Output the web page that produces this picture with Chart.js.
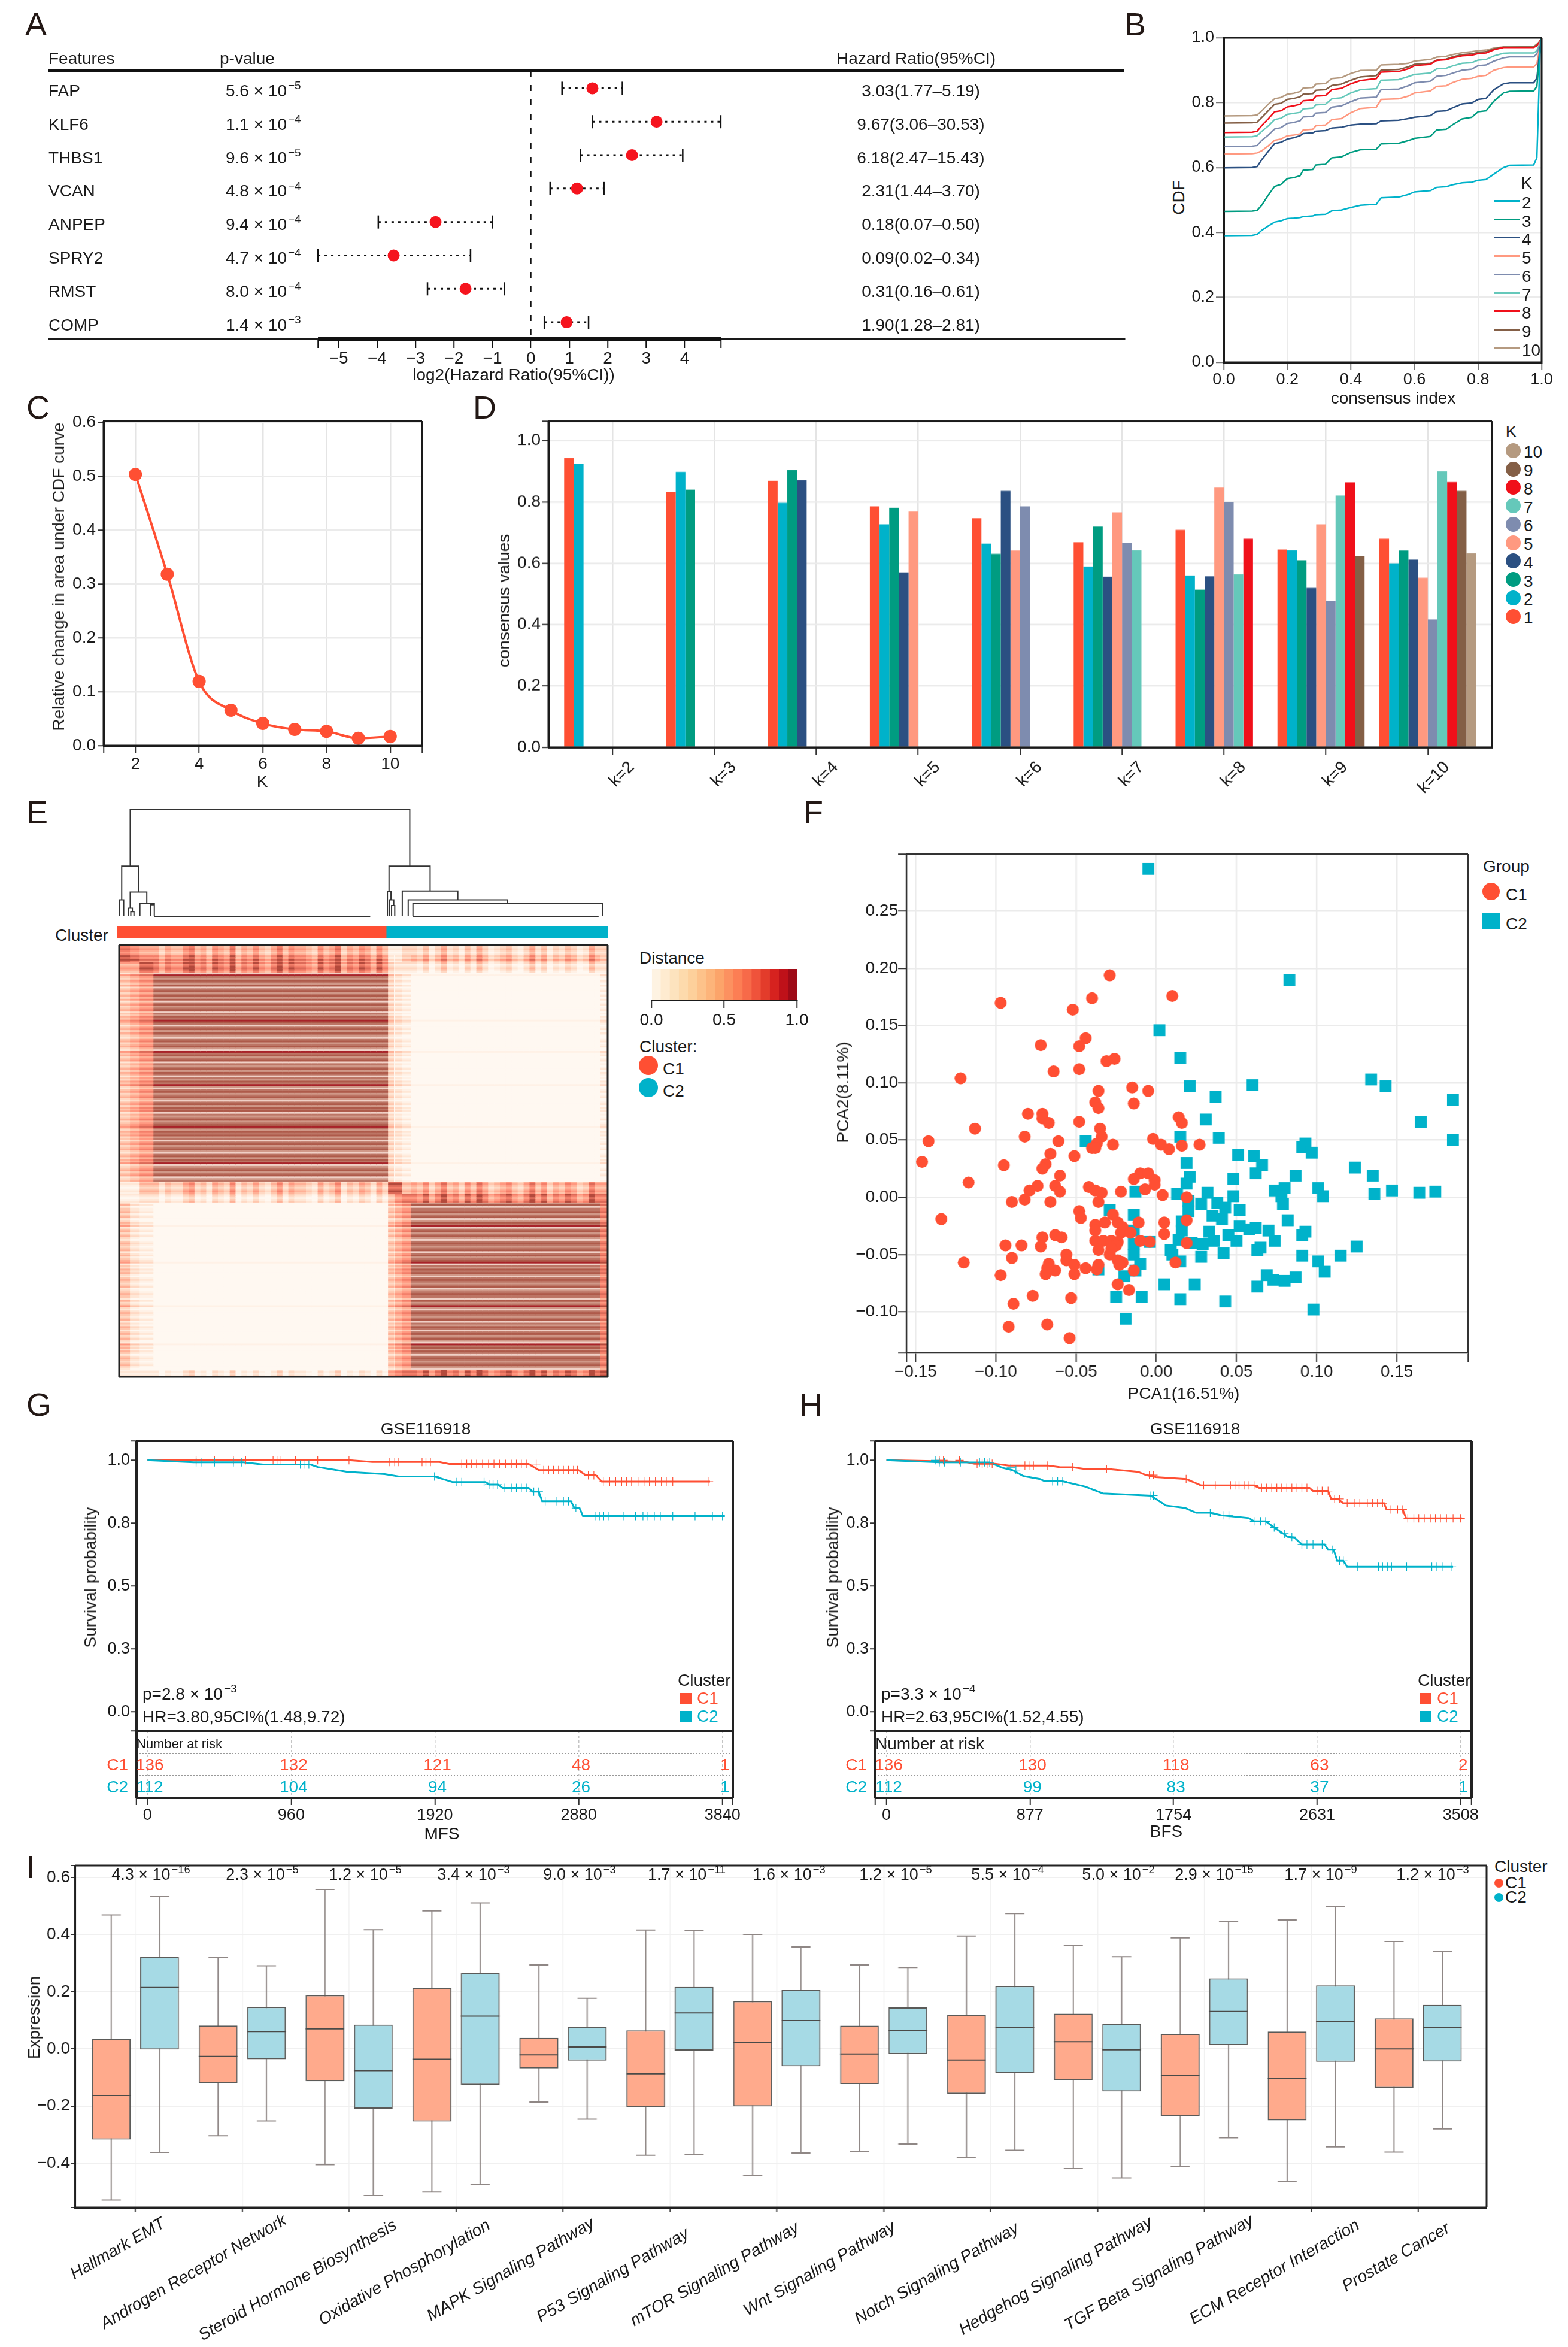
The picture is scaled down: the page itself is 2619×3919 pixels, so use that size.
<!DOCTYPE html>
<html>
<head>
<meta charset="utf-8">
<title>Consensus clustering figure</title>
<script src="https://cdn.jsdelivr.net/npm/chart.js@4"></script>
<style>
  html, body { margin: 0; padding: 0; background: #fff; }
  #stage { position: relative; width: 2619px; height: 3919px; overflow: hidden; background: #fff; font-family: "Liberation Sans", Arial, sans-serif; color: #1a1a1a; }
  #stage canvas { position: absolute; }
  .t { position: absolute; white-space: nowrap; line-height: 1; }
  .t sup { font-size: .68em; line-height: 0; vertical-align: .62em; margin-left: 2px; }
  .s { position: absolute; }
</style>
</head>
<body>
<div id="stage"></div>
<script>
// ---------- colours ----------
const colC1 = "#FF4F33";
const colC2 = "#00B2CA";
const colK = ["#FF4F33", "#00B2CA", "#009C81", "#2B5082", "#FF9980", "#7E8CAF", "#65C8BA", "#F0101A", "#845F46", "#B59A80"];

// ---------- A: forest plot ----------
const coxGenes = ["FAP", "KLF6", "THBS1", "VCAN", "ANPEP", "SPRY2", "RMST", "COMP"];
const coxP = ["5.6", "1.1", "9.6", "4.8", "9.4", "4.7", "8.0", "1.4"];
const coxExp = [-5, -4, -5, -4, -4, -4, -4, -3];
const coxHR = ["3.03", "9.67", "6.18", "2.31", "0.18", "0.09", "0.31", "1.90"];
const coxLow = ["1.77", "3.06", "2.47", "1.44", "0.07", "0.02", "0.16", "1.28"];
const coxHigh = ["5.19", "30.53", "15.43", "3.70", "0.50", "0.34", "0.61", "2.81"];
// log2 positions
const coxLogHR = [1.60, 3.27, 2.63, 1.20, -2.48, -3.57, -1.70, .93];
const coxLogLow = [.81, 1.60, 1.29, .50, -3.97, -5.54, -2.69, .35];
const coxLogHigh = [2.38, 4.94, 3.95, 1.90, -1.00, -1.57, -.69, 1.50];
const forestTicks = [-5.54, -5, -4, -3, -2, -1, 0, 1, 2, 3, 4, 4.95];

// ---------- B: CDF curves ----------
const cdfX = [0, .09, .105, .12, .14, .16, .18, .2, .22, .24, .25, .28, .29, .32, .34, .37, .4, .43, .48, .495, .55, .58, .6, .65, .67, .7, .72, .75, .78, .8, .825, .85, .88, .9, .975, .985, .995, 1];
const cdfK2 = [.39, .391, .394, .407, .42, .432, .436, .443, .444, .446, .449, .451, .455, .456, .467, .469, .477, .484, .487, .507, .509, .517, .525, .529, .539, .541, .547, .553, .555, .561, .563, .58, .6, .607, .608, .63, .95, 1];
const cdfK3 = [.465, .466, .468, .485, .515, .542, .548, .566, .569, .575, .592, .594, .608, .61, .63, .633, .647, .655, .657, .673, .675, .683, .69, .696, .716, .718, .732, .75, .755, .772, .775, .805, .83, .835, .836, .85, .96, 1];
const cdfK4 = [.599, .6, .603, .625, .65, .674, .678, .688, .692, .698, .705, .707, .712, .714, .722, .724, .731, .734, .735, .744, .746, .751, .755, .76, .773, .775, .784, .796, .799, .81, .813, .84, .858, .861, .861, .875, .97, 1];
const cdfK5 = [.642, .643, .645, .652, .667, .684, .688, .698, .7, .704, .716, .718, .729, .731, .748, .751, .769, .782, .786, .81, .812, .82, .83, .836, .85, .852, .862, .872, .875, .881, .884, .9, .908, .91, .91, .92, .975, 1];
const cdfK6 = [.665, .666, .668, .684, .7, .719, .723, .736, .739, .744, .756, .758, .768, .77, .786, .79, .803, .814, .817, .84, .842, .852, .861, .866, .881, .884, .891, .9, .903, .914, .916, .928, .938, .941, .941, .95, .98, 1];
const cdfK7 = [.694, .695, .698, .712, .728, .748, .752, .764, .767, .77, .781, .783, .793, .795, .812, .815, .83, .84, .843, .869, .871, .88, .887, .891, .904, .906, .913, .921, .923, .931, .933, .944, .952, .953, .953, .96, .985, 1];
const cdfK8 = [.708, .709, .712, .73, .75, .772, .775, .787, .79, .795, .806, .808, .82, .822, .84, .844, .858, .868, .874, .894, .896, .904, .914, .918, .93, .932, .938, .944, .946, .951, .953, .963, .97, .97, .97, .975, .99, 1];
const cdfK9 = [.737, .738, .74, .755, .775, .795, .798, .81, .813, .818, .826, .828, .838, .84, .853, .857, .869, .879, .883, .9, .902, .91, .918, .921, .931, .934, .941, .948, .95, .955, .957, .966, .971, .971, .972, .978, .99, 1];
const cdfK10 = [.759, .76, .762, .775, .795, .812, .816, .826, .829, .834, .845, .847, .857, .859, .874, .877, .89, .899, .9, .916, .918, .921, .928, .933, .94, .943, .948, .954, .957, .96, .962, .968, .972, .972, .973, .98, .99, 1];

// ---------- C: relative change ----------
const deltaK = [2, 3, 4, 5, 6, 7, 8, 9, 10];
const deltaArea = [.503, .318, .119, .0655, .041, .03, .0265, .0135, .0168];

// ---------- D: consensus values, one array per cluster, one entry per k ----------
const consensusK = [2, 3, 4, 5, 6, 7, 8, 9, 10];
const cons1 = [.944, .833, .869, .786, .747, .669, .709, .645, .68];
const cons2 = [.925, .898, .797, .727, .664, .589, .56, .643, .6];
const cons3 = [null, .84, .905, .781, .631, .72, .514, .61, .642];
const cons4 = [null, null, .872, .57, .836, .556, .558, .52, .612];
const cons5 = [null, null, null, .769, .642, .766, .847, .727, .553];
const cons6 = [null, null, null, null, .786, .667, .8, .477, .417];
const cons7 = [null, null, null, null, null, .643, .565, .821, .9];
const cons8 = [null, null, null, null, null, null, .68, .864, .865];
const cons9 = [null, null, null, null, null, null, null, .624, .836];
const cons10 = [null, null, null, null, null, null, null, null, .633];

// ---------- E: consensus heatmap, read as bands of columns and rows ----------
const heatColBands = [5.4, 4.9, 7, 119.1, 3, 0.6, 3.4, 4.8, 96, 3.8];
const heatRowBands = [6, 4, 6, 120, 7, 5, 96, 4];
const heatLevels = [
  [7, 6, 5, 5, 1, 1, 1, 3, 3, 3],
  [8, 7, 6, 6, 1, 0, 1, 3, 4, 3],
  [5, 5, 8, 7, 3, 1, 2, 2, 2, 2],
  [4, 5, 6, 10, 3, 0, 2, 1, 0, 1],
  [1, 1, 4, 4, 8, 8, 8, 4, 5, 5],
  [1, 1, 2, 2, 4, 4, 6, 7, 7, 7],
  [4, 2, 1, 0, 4, 3, 5, 6, 10, 7],
  [1, 1, 1, 1, 5, 5, 6, 7, 7, 8]
];
const heatRowTone = "mmdmpmdmrmdpmdmp" +
  "wrmpdmpdwmdpmdpdwmdpmdwmpdmrdmwmdpdmpwmdpmdpwrmdpmdwmpmdpdmwmpdmrpwmdpmdpwmdpdmdwmpmdpmdrmpdmdpmwmdpmdpwmdpdmrwpmdpmdwpm" +
  "mdmpmdmdmpmd" +
  "pdwmmdpmdwpdmrwmdpmdpwmdmpmdwmdpmdrwmpdmdpwmdmpmdwpmdmmwdpmrpwmdmpmdwmpdmwmdpmdpwrmdpdmwmdmpmdpw" +
  "mdmd";
const heatSpeckC1 = "2021134120321402131024132210312402132031";
const heatSpeckC2 = "21302412031420123102413021320142";
const heatRamp = ["#FFF8F1", "#FFF1E6", "#FFE7D6", "#FFD9C4", "#FFC7AE", "#FFB096", "#FF9880", "#F47F6A", "#DD6A58", "#B44A3C"];
const heatMainTone = { w: "#F0D0C6", p: "#D09888", m: "#BC7565", d: "#AE5A4A", r: "#A82329" };
const heatToneShift = { w: -2, p: -1, m: 0, d: 1, r: 2 };
const clusterSizes = [136, 112];
const distanceRamp = ["#FEF3E2", "#FEEBD0", "#FDE3BE", "#FDDAAC", "#FDD09B", "#FDC28A", "#FDB47A", "#FCA46A", "#FC9160", "#FC7E54", "#F76A49", "#EF533B", "#E33C2B", "#D6221F", "#BF1119", "#9E0A17"];
// dendrogram merges: left leg, right leg, join height, foot of left leg, foot of right leg
const dendLeft = [6.5, 2.2, 1.1, 6.5, 5.7, 6.8, 11.4, 16.8, 137.4, 136.6, 137.6, 138.7, 144.1, 147.1, 149.5, 18.7, 149.5];
const dendRight = [147.9, 10.8, 3.2, 14.9, 7.6, 8.4, 18.7, 18.7, 158.2, 138.4, 139.8, 140.3, 172.2, 197.4, 245.3, 127.9, 243.4];
const dendTop = [1, .471, .155, .227, .076, .043, .119, .108, .471, .234, .155, .101, .237, .155, .119, 0, 0];
const dendFootL = [.471, .155, 0, .076, 0, 0, 0, 0, .234, 0, 0, 0, 0, 0, 0, 0, 0];
const dendFootR = [.471, .227, 0, .119, .043, 0, 0, 0, .237, .155, .101, 0, .155, .119, 0, 0, 0];

// ---------- F: PCA ----------
const pcaC1X = [-.029, .010, -.097, -.040, -.052, -.044, -.048, -.072, -.031, -.026, -.064, -.048, -.122, -.036, -.015, -.005, -.038, -.036, -.014, -.080, -.071, -.071, -.067, -.048, .014, .016, -.113, -.035, -.034, -.142, -.082, -.061, -.037, -.027, -.002, .003, .016, .027, .008, -.040, -.038, -.066, -.051, -.146, -.095, -.069, -.071, -.060, -.117, -.010, -.005, -.014, -.001, -.001, -.074, -.079, -.063, -.060, -.042, -.038, -.034, -.022, -.007, .004, -.082, -.090, -.066, -.036, .019, -.048, -.047, -.027, -.134, -.038, -.032, -.024, -.011, .005, -.038, -.021, .005, -.071, -.063, -.059, -.022, -.016, -.094, -.084, -.072, -.038, -.033, -.028, -.024, -.010, -.004, .019, -.036, -.029, -.025, -.090, -.056, -.056, -.067, -.120, -.051, -.024, -.021, -.023, .012, -.036, -.044, -.037, -.063, -.069, -.068, -.014, -.051, -.097, -.024, -.017, -.077, -.053, -.089, -.092, -.068, -.054, .019, -.028];
const pcaC1Y = [.194, .176, .170, .174, .164, .139, .132, .133, .119, .121, .110, .112, .104, .093, .096, .093, .083, .078, .082, .073, .073, .069, .065, .066, .070, .065, .060, .060, .053, .049, .053, .049, .047, .046, .051, .046, .045, .046, .042, .043, .043, .038, .036, .031, .028, .029, .025, .019, .013, .021, .021, .016, .015, .011, .010, .006, .010, .005, .009, .006, .004, .005, .007, .002, -.002, -.004, -.004, -.004, 0, -.012, -.018, -.015, -.019, -.024, -.022, -.022, -.022, -.022, -.029, -.026, -.032, -.035, -.033, -.035, -.031, -.031, -.042, -.042, -.043, -.038, -.038, -.038, -.039, -.038, -.039, -.040, -.046, -.050, -.042, -.053, -.050, -.055, -.058, -.057, -.059, -.055, -.057, -.059, -.057, -.059, -.062, -.063, -.064, -.067, -.062, -.064, -.067, -.068, -.076, -.081, -.086, -.088, -.093, -.113, -.111, -.123, -.020, -.045];
const pcaC2X = [-.005, .083, .002, .015, .134, .143, .021, .060, .037, .185, .031, .165, -.044, .015, .039, .185, .093, .091, .097, .051, .061, .019, .066, .124, .062, .135, .087, .021, .048, .019, .101, .074, .080, .032, -.013, .013, .104, .136, .147, .164, .174, .078, .048, .079, .020, .028, .038, .020, .043, .052, -.029, .035, -.014, .041, .082, .016, .052, .058, .062, .016, -.014, .070, .093, .091, .033, .045, .014, .036, .074, .050, .022, .029, -.004, -.014, .065, .063, .009, .010, .125, -.014, .042, .028, .091, .115, .015, -.010, .101, .105, -.013, -.020, -.036, .069, .073, .080, .087, .005, .024, .063, -.025, -.009, .015, .043, .098, -.019];
const pcaC2Y = [.287, .190, .146, .122, .103, .097, .097, .098, .088, .085, .068, .066, .049, .053, .052, .050, .047, .044, .039, .037, .036, .030, .028, .026, .021, .019, .019, .018, .016, .012, .008, .006, .008, .004, .005, .003, .001, .003, .006, .004, .005, .001, .001, -.006, -.003, -.006, -.005, -.012, -.009, -.011, -.011, -.016, -.015, -.019, -.020, -.021, -.025, -.028, -.027, -.029, -.029, -.029, -.030, -.033, -.030, -.033, -.037, -.038, -.038, -.038, -.040, -.041, -.039, -.041, -.044, -.046, -.046, -.050, -.043, -.050, -.049, -.052, -.051, -.051, -.056, -.058, -.056, -.065, -.064, -.069, -.063, -.068, -.072, -.073, -.070, -.076, -.076, -.078, -.087, -.087, -.089, -.091, -.098, -.106];

// ---------- G: MFS survival ----------
const mfsTicks = [0, 960, 1920, 2880, 3840];
const mfsC1T = [0, 1346, 1502, 1950, 2016, 2546, 2613, 2878, 2928, 2994, 3034, 3757];
const mfsC1S = [1, 1, .993, .993, .985, .985, .961, .961, .94, .94, .915, .915];
const mfsC2T = [0, 308, 640, 772, 1088, 1137, 1336, 1585, 1684, 1917, 2039, 2258, 2281, 2341, 2371, 2546, 2573, 2613, 2636, 2828, 2851, 2885, 2908, 3856];
const mfsC2S = [1, .992, .992, .983, .983, .973, .954, .945, .935, .935, .913, .913, .903, .903, .89, .89, .875, .875, .837, .837, .81, .81, .778, .778];
const mfsC1Cens = [325, 448, 574, 656, 839, 865, 892, 988, 1137, 1346, 1618, 1651, 1678, 1834, 1860, 1890, 2099, 2132, 2165, 2198, 2238, 2278, 2314, 2351, 2391, 2430, 2464, 2497, 2530, 2596, 2646, 2679, 2712, 2745, 2778, 2812, 2845, 2871, 2944, 2981, 3044, 3087, 3127, 3167, 3200, 3233, 3276, 3316, 3352, 3392, 3432, 3465, 3508, 3750];
const mfsC2Cens = [325, 358, 448, 574, 630, 1021, 1045, 1078, 1917, 2066, 2099, 2248, 2281, 2308, 2338, 2381, 2430, 2464, 2497, 2530, 2580, 2613, 2656, 2729, 2778, 2812, 2861, 2994, 3021, 3047, 3077, 3177, 3259, 3309, 3342, 3385, 3425, 3508, 3657, 3773, 3840];
const mfsRiskC1 = [136, 132, 121, 48, 1];
const mfsRiskC2 = [112, 104, 94, 26, 1];

// ---------- H: BFS survival ----------
const bfsTicks = [0, 877, 1754, 2631, 3508];
const bfsC1T = [0, 477, 538, 662, 748, 985, 1062, 1138, 1215, 1354, 1538, 1585, 1646, 1831, 1923, 2246, 2277, 2585, 2606, 2698, 2717, 2760, 2791, 3040, 3055, 3154, 3175, 3517];
const bfsC1S = [1, .994, .986, .986, .979, .979, .972, .972, .965, .965, .954, .941, .933, .925, .9, .9, .89, .89, .878, .878, .846, .846, .829, .829, .804, .804, .769, .769];
const bfsC2T = [0, 323, 631, 708, 769, 837, 938, 969, 1077, 1215, 1323, 1615, 1708, 1825, 1892, 1978, 2046, 2215, 2246, 2317, 2369, 2425, 2452, 2492, 2538, 2677, 2698, 2732, 2754, 2791, 2815, 3462];
const bfsC2S = [1, .992, .991, .97, .961, .937, .925, .916, .916, .895, .868, .859, .82, .81, .791, .791, .781, .77, .757, .757, .733, .708, .695, .693, .665, .665, .644, .644, .6, .6, .576, .576];
const bfsC1Cens = [323, 348, 446, 554, 585, 615, 646, 846, 871, 898, 985, 1138, 1345, 1606, 1631, 1831, 1938, 2009, 2102, 2129, 2154, 2185, 2215, 2246, 2292, 2323, 2354, 2385, 2415, 2446, 2477, 2508, 2538, 2569, 2631, 2662, 2698, 2738, 2769, 2815, 2862, 2892, 2938, 2969, 3000, 3031, 3077, 3123, 3154, 3185, 3222, 3252, 3286, 3323, 3354, 3385, 3422, 3462, 3508];
const bfsC2Cens = [298, 323, 354, 452, 569, 600, 631, 760, 791, 1015, 1046, 1077, 1615, 1631, 1978, 2062, 2092, 2246, 2286, 2317, 2369, 2431, 2477, 2538, 2569, 2606, 2662, 2723, 2769, 2791, 2877, 3006, 3031, 3062, 3086, 3178, 3332, 3363, 3400, 3455];
const bfsRiskC1 = [136, 130, 118, 63, 2];
const bfsRiskC2 = [112, 99, 83, 37, 1];

// ---------- I: pathway box plots ----------
const pathways = ["Hallmark EMT", "Androgen Receptor Network", "Steroid Hormone Biosynthesis", "Oxidative Phosphorylation", "MAPK Signaling Pathway", "P53 Signaling Pathway", "mTOR Signaling Pathway", "Wnt Signaling Pathway", "Notch Signaling Pathway", "Hedgehog Signaling Pathway", "TGF Beta Signaling Pathway", "ECM Receptor Interaction", "Prostate Cancer"];
const pathP = ["4.3", "2.3", "1.2", "3.4", "9.0", "1.7", "1.6", "1.2", "5.5", "5.0", "2.9", "1.7", "1.2"];
const pathExp = [-16, -5, -5, -3, -3, -11, -3, -5, -4, -2, -15, -9, -3];
const pathLabelX = [252, 438, 610, 791, 968, 1147, 1318, 1496, 1683, 1868, 2028, 2206, 2393];
const pathNameEndX = [278, 481, 665, 821, 995, 1153, 1337, 1498, 1704, 1927, 2096, 2273, 2424];
const pathNameEndY = [3700, 3695, 3703, 3703, 3700, 3717, 3707, 3706, 3708, 3698, 3695, 3703, 3708];
const c1Hi = [.469, .321, .558, .483, .294, .416, .401, .294, .395, .363, .389, .451, .376];
const c1Q3 = [.035, .082, .188, .212, .039, .065, .167, .081, .118, .123, .053, .061, .107];
const c1Med = [-.163, -.026, .07, -.036, -.021, -.087, .022, -.018, -.039, .025, -.093, -.102, 0];
const c1Q1 = [-.317, -.12, -.113, -.254, -.068, -.204, -.201, -.123, -.157, -.109, -.235, -.25, -.137];
const c1Lo = [-.529, -.304, -.405, -.501, -.186, -.372, -.443, -.359, -.381, -.419, -.411, -.464, -.361];
const c2Hi = [.533, .291, .417, .511, .177, .414, .357, .285, .474, .323, .446, .499, .34];
const c2Q3 = [.323, .147, .085, .266, .076, .217, .206, .145, .22, .087, .247, .222, .154];
const c2Med = [.215, .061, -.076, .115, .007, .126, .099, .065, .074, -.003, .131, .095, .076];
const c2Q1 = [-.002, -.036, -.209, -.126, -.041, -.006, -.061, -.018, -.085, -.149, .013, -.045, -.044];
const c2Lo = [-.362, -.252, -.513, -.473, -.246, -.369, -.364, -.333, -.355, -.451, -.311, -.343, -.28];

// ---------- helpers ----------
Chart.defaults.font.family = '"Liberation Sans", Arial, sans-serif';
Chart.defaults.font.size = 28;
Chart.defaults.color = "#1a1a1a";

const stage = document.getElementById("stage");

// box round the plot area, sides picked with a string such as "trbl"
Chart.register({
  id: "frame",
  afterDatasetsDraw(chart, args, opts) {
    if (!opts.width) return;
    const { left, right, top, bottom } = chart.chartArea;
    const ctx = chart.ctx;
    const sides = opts.sides || "trbl";
    ctx.save();
    ctx.strokeStyle = opts.color || "#1a1a1a";
    ctx.lineWidth = opts.width;
    ctx.beginPath();
    if (sides.includes("t")) { ctx.moveTo(left, top); ctx.lineTo(right, top); }
    if (sides.includes("r")) { ctx.moveTo(right, top); ctx.lineTo(right, bottom); }
    if (sides.includes("b")) { ctx.moveTo(left, bottom); ctx.lineTo(right, bottom); }
    if (sides.includes("l")) { ctx.moveTo(left, top); ctx.lineTo(left, bottom); }
    ctx.stroke();
    ctx.restore();
  }
});

// text placed on the page, y is the middle of the line
function txt(html, x, y, o = {}) {
  const el = document.createElement("div");
  el.className = "t";
  el.innerHTML = html;
  const shift = o.align === "right" ? -100 : o.align === "center" ? -50 : 0;
  el.style.left = x + "px";
  el.style.top = y + "px";
  el.style.fontSize = (o.size || 28) + "px";
  if (o.color) el.style.color = o.color;
  if (o.italic) el.style.fontStyle = "italic";
  if (o.origin) el.style.transformOrigin = o.origin;
  el.style.transform = `translate(${shift}%, -50%)` + (o.rot ? ` rotate(${o.rot}deg)` : "");
  stage.appendChild(el);
}

// small legend swatch: circle, square or line
function swatch(x, y, w, h, color, round) {
  const el = document.createElement("div");
  el.className = "s";
  el.style.cssText = `left:${x}px;top:${y}px;width:${w}px;height:${h}px;background:${color};` + (round ? "border-radius:50%;" : "");
  stage.appendChild(el);
}

// numeric axis with an exact list of ticks
function axis(o) {
  return {
    type: "linear",
    display: o.display !== false,
    min: o.min,
    max: o.max,
    bounds: "data",
    reverse: !!o.reverse,
    offset: false,
    stacked: !!o.stacked,
    afterBuildTicks(scale) {
      if (o.ticks) scale.ticks = o.ticks.map((v) => ({ value: v }));
    },
    grid: {
      display: o.grid !== false,
      offset: false,
      color: o.gridColor || "#EBEBEB",
      lineWidth: o.gridWidth || 2.5,
      drawOnChartArea: o.gridArea !== false,
      tickLength: o.tick === undefined ? 13 : o.tick,
      tickColor: o.tickColor || "#333",
      tickWidth: 2
    },
    border: { display: o.border !== false, color: "#1a1a1a", width: o.borderWidth || 3, dash: o.dash },
    ticks: {
      display: o.labels !== false,
      autoSkip: false,
      maxRotation: o.rot || 0,
      minRotation: o.rot || 0,
      padding: o.pad === undefined ? 3 : o.pad,
      labelOffset: o.labelOffset || 0,
      font: { size: o.size || 28, style: o.italic ? "italic" : "normal" },
      color: "#1a1a1a",
      callback(v) {
        if ((o.blank || []).includes(v)) return "";
        return o.fmt ? o.fmt(v) : v.toFixed(o.dec === undefined ? 1 : o.dec).replace("-", "−");
      }
    }
  };
}

// canvas placed so that the plot area lands on left/top/right/bottom, m are the margins round it
function mk(box, m, cfg) {
  const c = document.createElement("canvas");
  const w = box.r - box.l + m.l + m.r;
  const h = box.b - box.t + m.t + m.b;
  c.width = w;
  c.height = h;
  c.style.left = box.l - m.l + "px";
  c.style.top = box.t - m.t + "px";
  c.style.width = w + "px";
  c.style.height = h + "px";
  stage.appendChild(c);
  const sc = cfg.options.scales;
  sc.x.afterFit = (s) => { s.height = m.b; };
  sc.y.afterFit = (s) => { s.width = m.l; };
  cfg.options.responsive = false;
  cfg.options.maintainAspectRatio = false;
  cfg.options.animation = false;
  cfg.options.devicePixelRatio = 1;
  cfg.options.layout = {
    autoPadding: false,
    padding: { top: m.t, right: m.r, left: sc.y.display === false ? m.l : 0, bottom: sc.x.display === false ? m.b : 0 }
  };
  cfg.options.plugins = Object.assign({ legend: { display: false }, tooltip: { enabled: false } }, cfg.options.plugins);
  return new Chart(c, cfg);
}

function pairs(xs, ys) {
  return xs.map((x, i) => ({ x, y: ys[i] }));
}

// ---------- panel letters ----------
[["A", 42, 40], ["B", 1878, 40], ["C", 44, 680], ["D", 790, 680], ["E", 44, 1356], ["F", 1342, 1356], ["G", 44, 2345], ["H", 1335, 2345], ["I", 44, 3117]].forEach(([s, x, y]) => {
  txt(s, x, y, { size: 54, color: "#231815" });
});

// ---------- A ----------
function drawForest() {
  const markers = {
    data: coxLogHR.map((v, i) => ({ x: v, y: i + 1 })),
    pointRadius: 10,
    pointBackgroundColor: "#F5141E",
    pointBorderWidth: 0
  };
  const whiskers = coxGenes.map((g, i) => ({
    data: [{ x: coxLogLow[i], y: i + 1 }, { x: coxLogHigh[i], y: i + 1 }],
    showLine: true,
    borderColor: "#111",
    borderWidth: 3,
    borderDash: [4, 7],
    pointStyle: "line",
    pointRotation: 90,
    pointRadius: 11,
    pointBorderColor: "#111",
    pointBorderWidth: 2.5
  }));
  const zero = {
    data: [{ x: 0, y: .473 }, { x: 0, y: 8.5 }],
    showLine: true,
    borderColor: "#111",
    borderWidth: 2,
    borderDash: [10, 14],
    pointRadius: 0
  };
  const span = {
    data: [{ x: -5.54, y: 8.5 }, { x: 4.95, y: 8.5 }],
    showLine: true,
    borderColor: "#111",
    borderWidth: 6,
    pointRadius: 0,
    clip: false
  };
  mk({ l: 81, r: 1878, t: 118, b: 566 }, { l: 0, r: 4, t: 6, b: 60 }, {
    type: "scatter",
    data: { datasets: [markers, ...whiskers, zero, span] },
    options: {
      scales: {
        x: axis({ min: -12.55, max: 15.44, ticks: forestTicks, blank: [-5.54, 4.95], grid: true, gridArea: false, tick: 15, pad: 1, borderWidth: 4, dec: 0, tickColor: "#111" }),
        y: axis({ display: false, min: .473, max: 8.5, reverse: true })
      },
      plugins: { frame: { width: 4, sides: "t", color: "#111" } }
    }
  });
  txt("Features", 81, 98);
  txt("p-value", 367, 98);
  txt("Hazard Ratio(95%CI)", 1530, 98, { align: "center" });
  coxGenes.forEach((g, i) => {
    const y = 152 + i * 55.8;
    txt(g, 81, y);
    txt(`${coxP[i]} × 10<sup>${String(coxExp[i]).replace("-", "−")}</sup>`, 377, y);
    txt(`${coxHR[i]}(${coxLow[i]}–${coxHigh[i]})`, 1538, y, { align: "center" });
  });
  txt("log2(Hazard Ratio(95%CI))", 858, 626, { align: "center" });
}

// ---------- B ----------
function drawCdf() {
  const curves = [cdfK2, cdfK3, cdfK4, cdfK5, cdfK6, cdfK7, cdfK8, cdfK9, cdfK10];
  const tickVals = [0, .2, .4, .6, .8, 1];
  mk({ l: 2044, r: 2575, t: 63, b: 605 }, { l: 60, r: 44, t: 30, b: 50 }, {
    type: "scatter",
    data: {
      datasets: curves.map((ys, i) => ({
        data: pairs(cdfX, ys),
        showLine: true,
        borderColor: colK[i + 1],
        borderWidth: 2.5,
        pointRadius: 0
      }))
    },
    options: {
      scales: {
        x: axis({ min: 0, max: 1, ticks: tickVals, size: 27, pad: 0, tickColor: "#777" }),
        y: axis({ min: 0, max: 1, ticks: tickVals, size: 27, tickColor: "#777" })
      },
      plugins: { frame: { width: 3 } }
    }
  });
  txt("CDF", 1969, 330, { align: "center", rot: -90 });
  txt("consensus index", 2327, 665, { align: "center" });
  txt("K", 2550, 306, { align: "center" });
  curves.forEach((ys, i) => {
    const y = 339 + i * 30.7;
    swatch(2495, y - 5, 44, 3, colK[i + 1]);
    txt(String(i + 2), 2542, y);
  });
}

// ---------- C ----------
function drawDelta() {
  mk({ l: 173, r: 705, t: 703, b: 1245 }, { l: 80, r: 4, t: 30, b: 50 }, {
    type: "scatter",
    data: {
      datasets: [{
        data: pairs(deltaK, deltaArea),
        showLine: true,
        tension: .35,
        cubicInterpolationMode: "monotone",
        borderColor: colC1,
        borderWidth: 4,
        pointRadius: 11,
        pointBackgroundColor: colC1,
        pointBorderWidth: 0
      }]
    },
    options: {
      scales: {
        x: axis({ min: 1, max: 11, ticks: [1, 2, 4, 6, 8, 10, 11], blank: [1, 11], dec: 0, pad: 1, gridColor: "#E4E4E4" }),
        y: axis({ min: 0, max: .602, ticks: [0, .1, .2, .3, .4, .5, .6], tick: 10, pad: 3, gridColor: "#EBEBEB" })
      },
      plugins: { frame: { width: 3 } }
    }
  });
  txt("Relative change in area under CDF curve", 98, 963, { align: "center", rot: -90 });
  txt("K", 438, 1305, { align: "center" });
}

// ---------- D ----------
function drawConsensus() {
  const series = [cons1, cons2, cons3, cons4, cons5, cons6, cons7, cons8, cons9, cons10];
  mk({ l: 916, r: 2492, t: 703, b: 1247.6 }, { l: 60, r: 4, t: 30, b: 110 }, {
    type: "bar",
    data: {
      datasets: series.map((ys, i) => ({
        data: pairs(consensusK, ys),
        backgroundColor: colK[i],
        categoryPercentage: .95,
        barPercentage: 1
      }))
    },
    options: {
      scales: {
        x: axis({ min: 1.3706, max: 10.63, ticks: consensusK, fmt: (v) => "k=" + v, rot: 45, labelOffset: 32, pad: 4, gridColor: "#E4E4E4" }),
        y: axis({ min: 0, max: 1.064, ticks: [0, .2, .4, .6, .8, 1, 1.064], blank: [1.064], tick: 10 })
      },
      plugins: { frame: { width: 3 } }
    }
  });
  txt("consensus values", 842, 1003, { align: "center", rot: -90 });
  txt("K", 2524, 721, { align: "center" });
  series.forEach((ys, i) => {
    const y = 1029 - i * 30.75;
    swatch(2514.5, y - 12.5, 25, 25, colK[i], true);
    txt(String(i + 1), 2545, y + 3);
  });
}

// ---------- E ----------
function heatColor(rowBand, rowTone, colBand, speck) {
  const base = heatLevels[rowBand][colBand];
  if (base === 10) return heatMainTone[rowTone];
  let shift = base === 0 ? (rowTone === "r" ? 1 : 0) : heatToneShift[rowTone];
  shift += speck;
  return heatRamp[Math.min(9, Math.max(0, base + shift))];
}

function drawHeatmap() {
  const rowBandOf = [];
  heatRowBands.forEach((n, b) => { for (let i = 0; i < n; i++) rowBandOf.push(b); });
  const rows = rowBandOf.map((b, i) => i);
  const datasets = [];
  heatColBands.forEach((width, colBand) => {
    const speck = colBand === 3 ? heatSpeckC1 : colBand === 8 ? heatSpeckC2 : "2";
    for (const ch of speck) {
      datasets.push({
        data: rows.map(() => width / speck.length),
        backgroundColor: rows.map((r) => {
          const band = rowBandOf[r];
          const textured = band !== 3 && band !== 6;
          return heatColor(band, heatRowTone[r] || "m", colBand, textured ? Number(ch) - 2 : 0);
        }),
        categoryPercentage: 1,
        barPercentage: 1
      });
    }
  });
  mk({ l: 196, r: 1015, t: 1578, b: 2302 }, { l: 3, r: 3, t: 3, b: 3 }, {
    type: "bar",
    data: { labels: rows, datasets },
    options: {
      indexAxis: "y",
      scales: {
        x: axis({ display: false, min: 0, max: 248, stacked: true }),
        y: { display: false, type: "category", stacked: true }
      },
      plugins: { frame: { width: 3, color: "#222" } }
    }
  });

  // cluster strip
  mk({ l: 196, r: 1015, t: 1546, b: 1566 }, { l: 0, r: 0, t: 0, b: 0 }, {
    type: "bar",
    data: {
      labels: ["Cluster"],
      datasets: clusterSizes.map((n, i) => ({ data: [n], backgroundColor: [colC1, colC2][i], categoryPercentage: 1, barPercentage: 1 }))
    },
    options: {
      indexAxis: "y",
      scales: {
        x: axis({ display: false, min: 0, max: 248, stacked: true }),
        y: { display: false, type: "category", stacked: true }
      }
    }
  });
  txt("Cluster", 181, 1562, { align: "right" });

  // dendrogram
  const path = [];
  dendLeft.forEach((l, i) => {
    path.push({ x: l, y: dendFootL[i] }, { x: l, y: dendTop[i] }, { x: dendRight[i], y: dendTop[i] }, { x: dendRight[i], y: dendFootR[i] }, { x: null, y: null });
  });
  mk({ l: 196, r: 1015, t: 1352, b: 1533 }, { l: 0, r: 0, t: 3, b: 3 }, {
    type: "scatter",
    data: { datasets: [{ data: path, showLine: true, spanGaps: false, borderColor: "#333", borderWidth: 2, pointRadius: 0, clip: false }] },
    options: {
      scales: {
        x: axis({ display: false, min: 0, max: 248 }),
        y: axis({ display: false, min: 0, max: 1 })
      }
    }
  });

  // distance colour key
  mk({ l: 1068, r: 1331, t: 1618, b: 1670 }, { l: 20, r: 30, t: 0, b: 56 }, {
    type: "bar",
    data: {
      labels: ["Distance"],
      datasets: distanceRamp.map((c) => ({ data: [1 / distanceRamp.length], backgroundColor: c, categoryPercentage: 1, barPercentage: 1 }))
    },
    options: {
      indexAxis: "y",
      scales: {
        x: axis({ min: 0, max: 1, ticks: [0, .5, 1], stacked: true, grid: true, gridArea: false, tick: 13, pad: 4, borderWidth: 2 }),
        y: { display: false, type: "category", stacked: true }
      }
    }
  });
  txt("Distance", 1068, 1600);
  txt("Cluster:", 1068, 1748);
  swatch(1067, 1763, 32, 32, colC1, true);
  swatch(1067, 1800, 32, 32, colC2, true);
  txt("C1", 1107, 1785);
  txt("C2", 1107, 1822);
}

// ---------- F ----------
function drawPca() {
  const fmt = (v) => v.toFixed(2).replace("-", "−");
  mk({ l: 1514, r: 2451.5, t: 1426, b: 2259 }, { l: 110, r: 4, t: 30, b: 60 }, {
    type: "scatter",
    data: {
      datasets: [
        { data: pairs(pcaC1X, pcaC1Y), pointRadius: 10, pointStyle: "circle", pointBackgroundColor: colC1, pointBorderWidth: 0 },
        { data: pairs(pcaC2X, pcaC2Y), pointRadius: 14, pointStyle: "rect", pointBackgroundColor: colC2, pointBorderWidth: 0 }
      ]
    },
    options: {
      scales: {
        x: axis({ min: -.1557, max: .1944, ticks: [-.1557, -.15, -.1, -.05, 0, .05, .1, .15, .1944], blank: [-.1557, .1944], fmt, tick: 15, pad: 0, borderWidth: 2 }),
        y: axis({ min: -.1359, max: .3, ticks: [-.1359, -.1, -.05, 0, .05, .1, .15, .2, .25, .3], blank: [-.1359, .3], fmt, tick: 14, pad: 0, borderWidth: 2 })
      },
      plugins: { frame: { width: 2.5, color: "#333" } }
    }
  });
  txt("PCA2(8.11%)", 1408, 1824, { align: "center", rot: -90 });
  txt("PCA1(16.51%)", 1977, 2327, { align: "center" });
  txt("Group", 2477, 1447);
  swatch(2476, 1474, 29, 29, colC1, true);
  swatch(2476, 1524, 29, 28, colC2);
  txt("C1", 2515, 1494);
  txt("C2", 2515, 1543);
}

// ---------- G, H ----------
function survAt(times, surv, t) {
  let s = surv[0];
  times.forEach((tt, i) => { if (tt <= t) s = surv[i]; });
  return s;
}

const riskPlugin = {
  id: "riskText",
  afterDatasetsDraw(chart) {
    const ctx = chart.ctx;
    ctx.save();
    ctx.font = '28px "Liberation Sans", Arial, sans-serif';
    ctx.textBaseline = "middle";
    chart.data.datasets.forEach((ds) => {
      ctx.fillStyle = ds.textColor;
      ctx.textAlign = "center";
      ds.data.forEach((p) => {
        ctx.fillText(String(p.n), chart.scales.x.getPixelForValue(p.x) + 4, chart.scales.y.getPixelForValue(p.y));
      });
      ctx.textAlign = "right";
      ctx.fillText(ds.rowName, chart.chartArea.left - 14, chart.scales.y.getPixelForValue(ds.data[0].y));
    });
    ctx.restore();
  }
};

function drawKM(o) {
  const cens = (times, surv, list, color) => ({
    data: list.map((t) => ({ x: t, y: survAt(times, surv, t) })),
    pointStyle: "cross",
    pointRadius: 7,
    pointBorderColor: color,
    pointBorderWidth: 1.2
  });
  const line = (times, surv, color) => ({
    data: pairs(times, surv),
    showLine: true,
    borderColor: color,
    borderWidth: 3,
    pointRadius: 0
  });
  const xTicks = [o.xMin, ...o.ticks, o.xMax];
  mk({ l: o.l, r: o.r, t: 2406, b: 2890 }, { l: 70, r: 4, t: 30, b: 30 }, {
    type: "scatter",
    data: {
      datasets: [
        cens(o.c2T, o.c2S, o.c2C, colC2),
        cens(o.c1T, o.c1S, o.c1C, colC1),
        line(o.c2T, o.c2S, colC2),
        line(o.c1T, o.c1S, colC1)
      ]
    },
    options: {
      scales: {
        x: axis({ min: o.xMin, max: o.xMax, grid: false, labels: false, tick: 0, border: false }),
        y: axis({ min: -.076, max: 1.077, ticks: [-.076, 0, .25, .5, .75, 1, 1.077], blank: [-.076, 1.077], gridArea: false, tick: 9, pad: 2, size: 27 })
      },
      plugins: { frame: { width: 4, color: "#222" } }
    }
  });
  mk({ l: o.l, r: o.r, t: 2890, b: 3002 }, { l: 70, r: 20, t: 4, b: 50 }, {
    type: "scatter",
    data: {
      datasets: [
        { rowName: "C1", textColor: colC1, data: o.ticks.map((x, i) => ({ x, y: 1.55, n: o.riskC1[i] })), pointRadius: 0 },
        { rowName: "C2", textColor: colC2, data: o.ticks.map((x, i) => ({ x, y: 2.55, n: o.riskC2[i] })), pointRadius: 0 }
      ]
    },
    plugins: [riskPlugin],
    options: {
      scales: {
        x: axis({ min: o.xMin, max: o.xMax, ticks: xTicks, blank: [o.xMin, o.xMax], dec: 0, tick: 12, pad: 1, gridColor: "#C4C4C4", gridWidth: 1.5, dash: [4, 4], size: 27, border: false }),
        y: axis({ min: 0, max: 3, reverse: true, ticks: [1, 2], labels: false, tick: 0, gridColor: "#999", gridWidth: 1.5, dash: [2, 3], border: false })
      },
      plugins: { frame: { width: 4, color: "#222" } }
    }
  });
  txt("GSE116918", o.titleX, 2386, { align: "center" });
  txt("Survival probability", o.yTitleX, 2634, { align: "center", rot: -90 });
  txt(o.p, o.l + 10, 2829);
  txt(o.hr, o.l + 10, 2867);
  txt("Cluster", o.legX, 2806);
  swatch(o.legX + 3, 2827, 20, 19, colC1);
  swatch(o.legX + 3, 2857, 20, 19, colC2);
  txt("C1", o.legX + 32, 2836, { color: colC1 });
  txt("C2", o.legX + 32, 2866, { color: colC2 });
  txt("Number at risk", o.l, 2912, { size: o.riskSize });
  txt(o.xName, o.xNameX, o.xNameY, { align: "center" });
}

// ---------- I ----------
const boxPlugin = {
  id: "boxExtras",
  beforeDatasetsDraw(chart) {
    const ctx = chart.ctx;
    const y = chart.scales.y;
    ctx.save();
    ctx.strokeStyle = "#8F8785";
    ctx.lineWidth = 2;
    chart.data.datasets.forEach((ds, d) => {
      chart.getDatasetMeta(d).data.forEach((bar, i) => {
        const hi = y.getPixelForValue(ds.hi[i]);
        const lo = y.getPixelForValue(ds.lo[i]);
        ctx.beginPath();
        ctx.moveTo(bar.x, hi); ctx.lineTo(bar.x, lo);
        ctx.moveTo(bar.x - 16, hi); ctx.lineTo(bar.x + 16, hi);
        ctx.moveTo(bar.x - 16, lo); ctx.lineTo(bar.x + 16, lo);
        ctx.stroke();
      });
    });
    ctx.restore();
  },
  afterDatasetsDraw(chart) {
    const ctx = chart.ctx;
    const y = chart.scales.y;
    ctx.save();
    ctx.strokeStyle = "#4A4A48";
    ctx.lineWidth = 2;
    chart.data.datasets.forEach((ds, d) => {
      chart.getDatasetMeta(d).data.forEach((bar, i) => {
        const m = y.getPixelForValue(ds.med[i]);
        ctx.beginPath();
        ctx.moveTo(bar.x - bar.width / 2, m); ctx.lineTo(bar.x + bar.width / 2, m);
        ctx.stroke();
      });
    });
    ctx.restore();
  }
};

function drawBoxes() {
  const idx = pathways.map((p, i) => i);
  const build = (q1, q3, med, lo, hi, fill) => ({
    data: idx.map((i) => ({ x: i, y: [q1[i], q3[i]] })),
    med, lo, hi,
    backgroundColor: fill,
    borderColor: "#5A5A58",
    borderWidth: 2,
    borderSkipped: false,
    categoryPercentage: .904,
    barPercentage: .803
  });
  mk({ l: 125.4, r: 2483, t: 3115, b: 3686 }, { l: 80, r: 4, t: 30, b: 30 }, {
    type: "bar",
    data: {
      datasets: [
        build(c1Q1, c1Q3, c1Med, c1Lo, c1Hi, "#FFAA8C"),
        build(c2Q1, c2Q3, c2Med, c2Lo, c2Hi, "#A6DAE5")
      ]
    },
    plugins: [boxPlugin],
    options: {
      scales: {
        x: axis({ min: -.566, max: 12.64, ticks: idx, labels: false, tick: 7, gridColor: "#F0F0F0", gridWidth: 1.5 }),
        y: axis({ min: -.555, max: .642, ticks: [-.555, -.4, -.2, 0, .2, .4, .6, .642], blank: [-.555, .642], tick: 7, pad: 1, gridColor: "#F0F0F0", gridWidth: 2 })
      },
      plugins: { frame: { width: 3, color: "#222" } }
    }
  });
  pathways.forEach((p, i) => {
    txt(`${pathP[i]} × 10<sup>${String(pathExp[i]).replace("-", "−")}</sup>`, pathLabelX[i], 3130, { align: "center", size: 27 });
    txt(p, pathNameEndX[i] - 5, pathNameEndY[i] + 10, { align: "right", italic: true, rot: -30, origin: "100% 50%" });
  });
  txt("Expression", 57, 3369, { align: "center", rot: -90 });
  txt("Cluster", 2496, 3117);
  swatch(2495.5, 3136.5, 15, 15, colC1, true);
  swatch(2495.5, 3160.5, 15, 15, colC2, true);
  txt("C1", 2514, 3144);
  txt("C2", 2514, 3168);
}

drawForest();
drawCdf();
drawDelta();
drawConsensus();
drawHeatmap();
drawPca();
drawKM({
  l: 228, r: 1224, xMin: -73, xMax: 3909, ticks: mfsTicks,
  c1T: mfsC1T, c1S: mfsC1S, c2T: mfsC2T, c2S: mfsC2S, c1C: mfsC1Cens, c2C: mfsC2Cens,
  riskC1: mfsRiskC1, riskC2: mfsRiskC2, riskSize: 22,
  titleX: 711, yTitleX: 151, legX: 1132, xName: "MFS", xNameX: 738, xNameY: 3062,
  p: "p=2.8 × 10<sup>−3</sup>", hr: "HR=3.80,95CI%(1.48,9.72)"
});
drawKM({
  l: 1462, r: 2458, xMin: -68, xMax: 3575, ticks: bfsTicks,
  c1T: bfsC1T, c1S: bfsC1S, c2T: bfsC2T, c2S: bfsC2S, c1C: bfsC1Cens, c2C: bfsC2Cens,
  riskC1: bfsRiskC1, riskC2: bfsRiskC2, riskSize: 28,
  titleX: 1996, yTitleX: 1391, legX: 2368, xName: "BFS", xNameX: 1948, xNameY: 3058,
  p: "p=3.3 × 10<sup>−4</sup>", hr: "HR=2.63,95CI%(1.52,4.55)"
});
drawBoxes();
</script>
</body>
</html>
